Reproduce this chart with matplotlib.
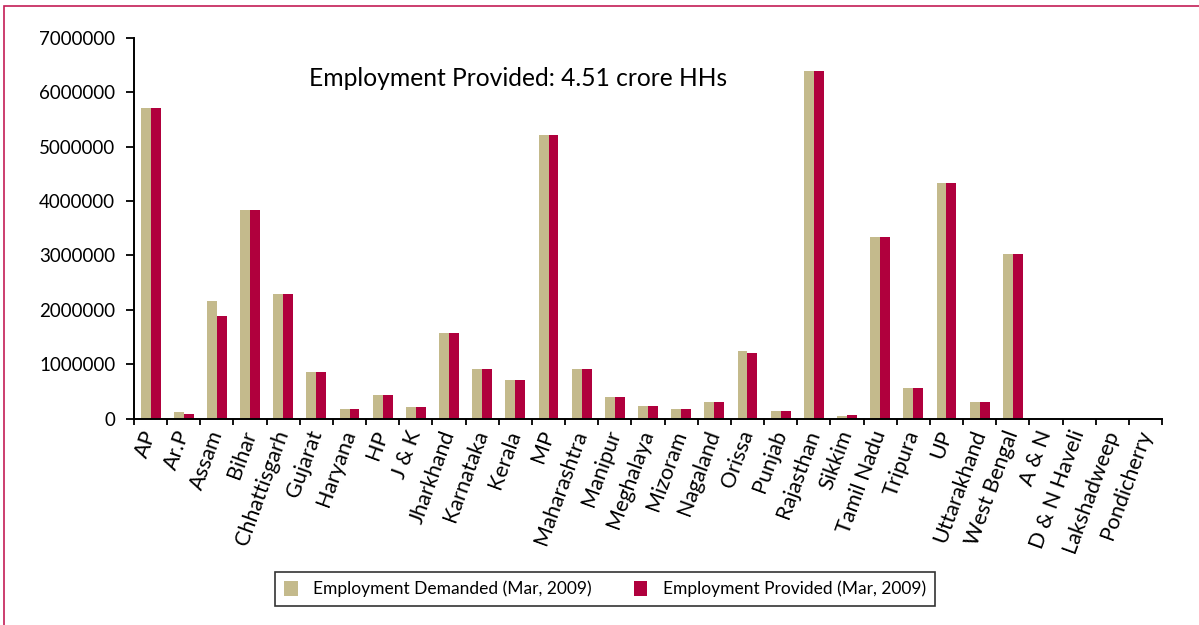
import numpy as np
import matplotlib
matplotlib.use("Agg")
import matplotlib.pyplot as plt
from matplotlib.patches import Rectangle
from matplotlib.ticker import FuncFormatter, FixedLocator

plt.rcParams['font.family'] = ['Lato', 'DejaVu Sans']

# States / UTs and household figures (March 2009)
estados = ["AP", "Ar.P", "Assam", "Bihar", "Chhattisgarh", "Gujarat", "Haryana", "HP",
           "J & K", "Jharkhand", "Karnataka", "Kerala", "MP", "Maharashtra", "Manipur",
           "Meghalaya", "Mizoram", "Nagaland", "Orissa", "Punjab", "Rajasthan", "Sikkim",
           "Tamil Nadu", "Tripura", "UP", "Uttarakhand", "West Bengal", "A & N",
           "D & N Haveli", "Lakshadweep", "Pondicherry"]

demandado = [5720000, 116000, 2170000, 3840000, 2290000, 850000, 180000, 440000,
             210000, 1580000, 915000, 705000, 5220000, 915000, 387000,
             234000, 178000, 295000, 1234000, 147000, 6400000, 55000,
             3340000, 560000, 4340000, 295000, 3020000, 0,
             0, 0, 0]

fornecido = [5720000, 86000, 1880000, 3840000, 2290000, 850000, 180000, 440000,
             210000, 1580000, 915000, 705000, 5220000, 915000, 387000,
             234000, 175000, 295000, 1203000, 147000, 6400000, 60000,
             3340000, 560000, 4340000, 295000, 3020000, 0,
             0, 0, 0]

titulo = "Employment Provided: 4.51 crore HHs"
rotulo_dem = "Employment Demanded (Mar, 2009)"
rotulo_forn = "Employment Provided (Mar, 2009)"

cor_dem = "#C4BA8C"
cor_forn = "#B0003D"

fig = plt.figure(figsize=(11.99, 6.25), dpi=100)
ax = fig.add_axes([134/1199, 1 - 418.5/625, (1162 - 134)/1199, (418.5 - 38)/625])

x = np.arange(len(estados))
larg = 0.3
b1 = ax.bar(x - larg/2, demandado, larg, color=cor_dem, label=rotulo_dem)
b2 = ax.bar(x + larg/2, fornecido, larg, color=cor_forn, label=rotulo_forn)

ax.set_xlim(-0.5, len(estados) - 0.5)
ax.set_ylim(0, 7000000)
ax.set_yticks(np.arange(0, 7000001, 1000000))
ax.yaxis.set_major_formatter(FuncFormatter(lambda v, p: f"{int(v)}"))

# ticks between categories, labels at the centres
ax.xaxis.set_major_locator(FixedLocator(np.arange(-0.5, len(estados), 1)))
ax.xaxis.set_major_formatter(FuncFormatter(lambda v, p: ""))
ax.set_xticks(x, minor=True)
ax.set_xticklabels(estados, minor=True, rotation=70, ha='right', va='center',
                   rotation_mode='anchor', fontsize=15.5)
ax.tick_params(axis='x', which='minor', length=0, pad=9)
ax.tick_params(axis='x', which='major', length=4.5, width=1.3, direction='out')
ax.tick_params(axis='y', length=5.5, width=1.3, direction='out', pad=8, labelsize=13.5)

for lado in ['top', 'right']:
    ax.spines[lado].set_visible(False)
for lado in ['left', 'bottom']:
    ax.spines[lado].set_linewidth(1.4)

fig.text(309/1199, 1 - 86/625, titulo, fontsize=17.7, va='baseline', ha='left')

leg = fig.legend(handles=[b1, b2], loc='center', bbox_to_anchor=(605/1199, 1 - 589/625),
                 ncol=2, frameon=True, fancybox=False, edgecolor='black', fontsize=12.5,
                 handlelength=0.8, handleheight=1.0, columnspacing=2.4, handletextpad=0.9,
                 borderpad=0.5)
leg.get_frame().set_linewidth(1.2)

# moldura da figura
fig.patches.append(Rectangle((4/1199, -0.1), 1.2, 1 - 6/625 + 0.1, transform=fig.transFigure,
                             fill=False, edgecolor='#C41E56', linewidth=1.2))

fig.savefig("out.png", dpi=100)
